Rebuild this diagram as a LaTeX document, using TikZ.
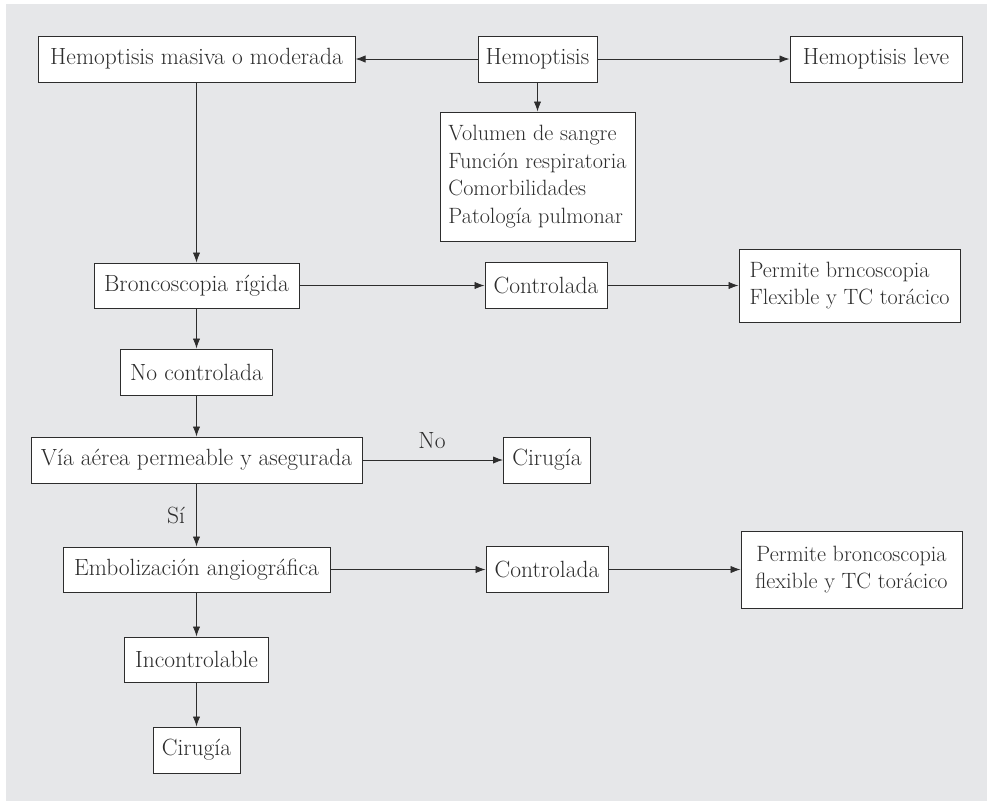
\documentclass[tikz,border=0pt]{standalone}
\usetikzlibrary{arrows.meta}
\definecolor{bggray}{RGB}{230,231,233}
\definecolor{ink}{RGB}{45,45,45}
\begin{document}
\begin{tikzpicture}[x=0.75pt,y=-0.75pt,
  box/.style={draw=ink, line width=0.75pt, fill=white, text=ink, inner sep=0pt,
    font=\fontsize{17.6}{20.8}\selectfont},
  multibox/.style={box, inner xsep=4.5pt, font=\fontsize{16.6}{20.8}\selectfont},
  wh/.style 2 args={minimum width=#1*0.75pt, minimum height=#2*0.75pt},
  lbl/.style={text=ink, inner sep=0pt, font=\fontsize{17.6}{20.8}\selectfont},
  arr/.style={draw=ink, line width=0.65pt, -{Latex[length=7.5pt,width=5.5pt]}}]
\useasboundingbox (0,0) rectangle (987,801);
\fill[bggray] (6,4) rectangle (987,801);

\node[box, wh={317}{46}] (masiva) at (196.5,59) {Hemoptisis masiva o moderada};
\node[box, wh={119}{46}] (hemo) at (537.5,59) {Hemoptisis};
\node[box, wh={172}{46}] (leve) at (876,59) {Hemoptisis leve};
\node[multibox, wh={195}{129}, align=left] (factores) at (537.5,176.5)
  {Volumen de sangre\\Función respiratoria\\Comorbilidades\\Patología pulmonar};

\node[box, wh={205}{45}] (bronc) at (196.5,285.5) {Broncoscopia rígida};
\node[box, wh={122}{46}] (ctrlA) at (546,285.5) {Controlada};
\node[multibox, wh={221}{73}, align=left] (permA) at (849.5,285.5)
  {Permite brncoscopia\\Flexible y TC torácico};

\node[box, wh={152}{46}] (noctrl) at (196.5,372) {No controlada};

\node[box, wh={331}{46}] (via) at (196.5,460) {Vía aérea permeable y asegurada};
\node[box, wh={87}{46}] (cirA) at (547,460) {Cirugía};
\node[lbl] (no) at (432,441) {No};

\node[box, wh={267}{45}] (emb) at (196.5,569.5) {Embolización angiográfica};
\node[box, wh={122}{46}] (ctrlB) at (547,569.5) {Controlada};
\node[multibox, wh={221}{77}, align=center] (permB) at (851.5,569.5)
  {Permite broncoscopia\\flexible y TC torácico};

\node[box, wh={144}{45}] (incon) at (196.5,659.5) {Incontrolable};
\node[box, wh={87}{46}] (cirB) at (196.5,750) {Cirugía};

\node[lbl] (si) at (176,515) {Sí};

\draw[arr] (hemo) -- (masiva);
\draw[arr] (hemo) -- (leve);
\draw[arr] (hemo) -- (factores);
\draw[arr] (masiva) -- (bronc);
\draw[arr] (bronc) -- (ctrlA);
\draw[arr] (ctrlA) -- (permA);
\draw[arr] (bronc) -- (noctrl);
\draw[arr] (noctrl) -- (via);
\draw[arr] (via) -- (cirA);
\draw[arr] (via) -- (emb);
\draw[arr] (emb) -- (ctrlB);
\draw[arr] (ctrlB) -- (permB);
\draw[arr] (emb) -- (incon);
\draw[arr] (incon) -- (cirB);
\end{tikzpicture}
\end{document}
